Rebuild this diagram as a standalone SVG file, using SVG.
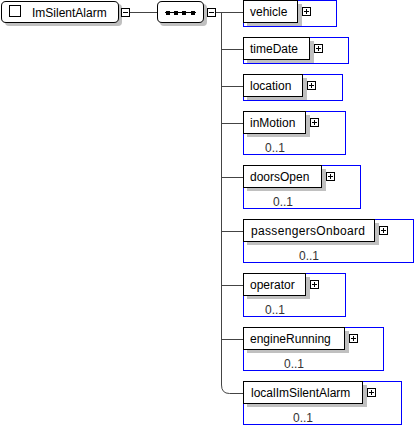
<svg xmlns="http://www.w3.org/2000/svg" width="416" height="427" viewBox="0 0 416 427">
<defs>
<style>
text{font-family:"Liberation Sans",Arial,sans-serif;font-size:12px;fill:#000}
.occ{fill:#333;text-anchor:middle}
.el{fill:#fff;stroke:#000;stroke-width:1}
.sh{fill:#c0c0c0;stroke:none}
.grp{fill:none;stroke:#0000ff;stroke-width:1}
.btn{fill:#fff;stroke:#000;stroke-width:1}
.sym{stroke:#000;stroke-width:1;fill:none}
.con{fill:none;stroke:#444;stroke-width:1}
</style>
<g id="plus"><rect class="btn" x="0.5" y="0.5" width="8" height="8"/><path class="sym" d="M2,4.5H7M4.5,2V7"/></g>
<g id="minus"><rect class="btn" x="0.5" y="0.5" width="8" height="8"/><path class="sym" d="M2,4.5H7"/></g>
</defs>
<g id="connectors">
<path class="con" d="M129,12.5H157"/>
<path class="con" d="M216,12.5H243"/>
<path class="con" d="M221.5,12.5V385Q221.5,393.5 229.5,393.5H243"/>
<path class="con" d="M221.5,49.5H243M221.5,86.5H243M221.5,123.5H243M221.5,177.5H243M221.5,231.5H243M221.5,285.5H243M221.5,339.5H243"/>
</g>
<g id="root">
<path class="sh" d="M9,4H118Q122,4 122,8V22Q122,26 118,26H9Q5,26 5,22V8Q5,4 9,4Z"/>
<path class="el" d="M6,1.5H114Q118.5,1.5 118.5,6V18Q118.5,22.5 114,22.5H6Q1.5,22.5 1.5,18V6Q1.5,1.5 6,1.5Z"/>
<rect class="btn" x="9.5" y="5.5" width="11" height="11"/>
<text x="32" y="16.5">ImSilentAlarm</text>
<use href="#minus" x="121" y="8"/>
</g>
<g id="sequence">
<path class="sh" d="M164,4H203Q207,4 207,8V22Q207,26 203,26H164Q160,26 160,22V8Q160,4 164,4Z"/>
<path class="el" d="M162,1.5H199Q203.5,1.5 203.5,6V18Q203.5,22.5 199,22.5H162Q157.5,22.5 157.5,18V6Q157.5,1.5 162,1.5Z"/>
<path d="M165,12.5H196" stroke="#000" stroke-width="1"/>
<rect x="166" y="11" width="4" height="4" fill="#000"/>
<rect x="174" y="11" width="4" height="4" fill="#000"/>
<rect x="182" y="11" width="4" height="4" fill="#000"/>
<rect x="191" y="11" width="4" height="4" fill="#000"/>
<use href="#minus" x="207" y="8"/>
</g>
<g id="vehicle">
<rect class="grp" x="243.5" y="0.5" width="93" height="26"/>
<rect class="sh" x="247" y="4" width="55" height="22"/>
<rect class="el" x="243.5" y="0.5" width="54" height="22"/>
<text x="250" y="16">vehicle</text>
<use href="#plus" x="302" y="7"/>
</g>
<g id="timeDate">
<rect class="grp" x="243.5" y="37.5" width="105" height="26"/>
<rect class="sh" x="247" y="41" width="67" height="22"/>
<rect class="el" x="243.5" y="37.5" width="66" height="22"/>
<text x="250" y="53">timeDate</text>
<use href="#plus" x="314" y="44"/>
</g>
<g id="location">
<rect class="grp" x="243.5" y="74.5" width="99" height="26"/>
<rect class="sh" x="247" y="78" width="60" height="22"/>
<rect class="el" x="243.5" y="74.5" width="59" height="22"/>
<text x="250" y="90">location</text>
<use href="#plus" x="307" y="81"/>
</g>
<g id="inMotion">
<rect class="grp" x="243.5" y="111.5" width="102" height="43"/>
<rect class="sh" x="247" y="115" width="63" height="22"/>
<rect class="el" x="243.5" y="111.5" width="62" height="22"/>
<text x="250" y="127">inMotion</text>
<use href="#plus" x="310" y="118"/>
<text class="occ" x="275" y="152">0..1</text>
</g>
<g id="doorsOpen">
<rect class="grp" x="243.5" y="165.5" width="117" height="43"/>
<rect class="sh" x="247" y="169" width="79" height="22"/>
<rect class="el" x="243.5" y="165.5" width="78" height="22"/>
<text x="250" y="181">doorsOpen</text>
<use href="#plus" x="326" y="172"/>
<text class="occ" x="283" y="206">0..1</text>
</g>
<g id="passengersOnboard">
<rect class="grp" x="243.5" y="219.5" width="170" height="43"/>
<rect class="sh" x="247" y="223" width="132" height="22"/>
<rect class="el" x="243.5" y="219.5" width="131" height="22"/>
<text x="251" y="235" textLength="114">passengersOnboard</text>
<use href="#plus" x="379" y="226"/>
<text class="occ" x="309" y="260">0..1</text>
</g>
<g id="operator">
<rect class="grp" x="243.5" y="273.5" width="102" height="43"/>
<rect class="sh" x="247" y="277" width="63" height="22"/>
<rect class="el" x="243.5" y="273.5" width="62" height="22"/>
<text x="250" y="289">operator</text>
<use href="#plus" x="310" y="280"/>
<text class="occ" x="275" y="314">0..1</text>
</g>
<g id="engineRunning">
<rect class="grp" x="243.5" y="327.5" width="140" height="43"/>
<rect class="sh" x="247" y="331" width="102" height="22"/>
<rect class="el" x="243.5" y="327.5" width="101" height="22"/>
<text x="250" y="343">engineRunning</text>
<use href="#plus" x="349" y="334"/>
<text class="occ" x="294" y="368">0..1</text>
</g>
<g id="localImSilentAlarm">
<rect class="grp" x="243.5" y="381.5" width="158" height="43"/>
<rect class="sh" x="247" y="385" width="120" height="22"/>
<rect class="el" x="243.5" y="381.5" width="119" height="22"/>
<text x="251" y="397">localImSilentAlarm</text>
<use href="#plus" x="367" y="388"/>
<text class="occ" x="303" y="422">0..1</text>
</g>
</svg>
